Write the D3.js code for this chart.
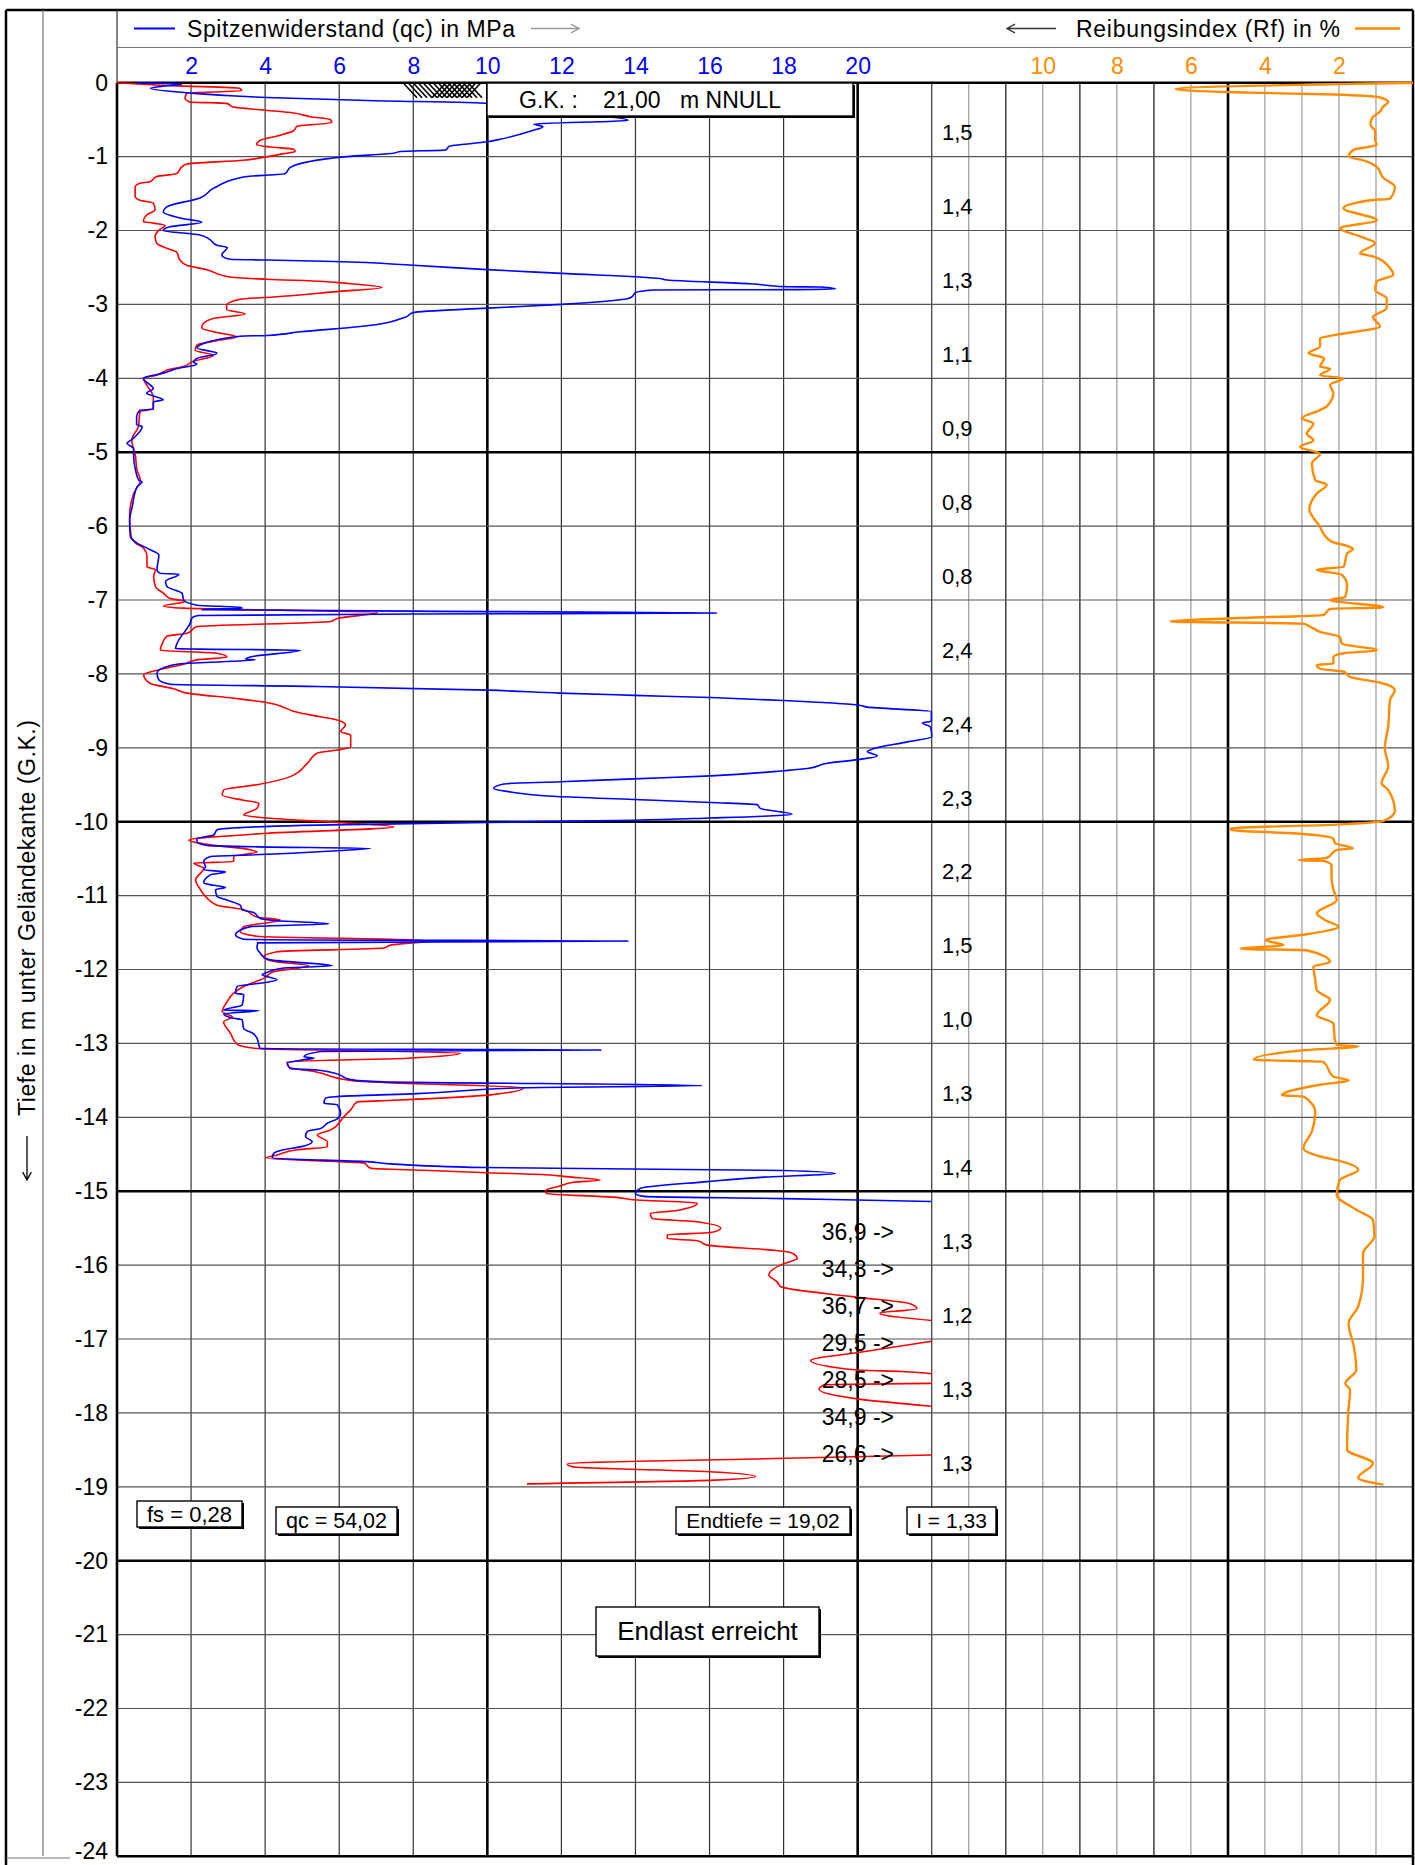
<!DOCTYPE html>
<html>
<head>
<meta charset="utf-8">
<script src="https://cdn.jsdelivr.net/npm/d3@7"></script>
<style>
  body { margin: 0; background: #fff; }
  text { font-family: "Liberation Sans", Arial, Helvetica, sans-serif; }
</style>
</head>
<body>
<div id="viz"></div>
<script>
// [depth m, qc MPa]
const qcData = [
  [0,0.53],[0.02,1.75],[0.05,1.2],[0.076,0.9],[0.14,1.97],[0.20,4.05],[0.24,6.75],[0.28,10.0],[0.31,10.3],[0.42,12.5],
  [0.51,13.8],[0.56,11.25],[0.595,11.5],[0.65,11.2],[0.77,10.3],[0.80,10.0],[0.86,8.97],[0.91,8.88],[0.93,7.65],[0.955,7.46],
  [1.0,6.2],[1.145,4.68],[1.23,4.54],[1.27,3.5],[1.43,2.6],[1.56,2.24],[1.68,1.34],[1.75,1.25],[1.83,1.7],[1.89,2.29],
  [1.95,1.43],[2.0,1.25],[2.06,2.24],[2.12,2.5],[2.2,2.7],[2.23,2.98],[2.33,2.83],[2.39,3.05],[2.40,4.05],[2.42,5.85],
  [2.47,8.0],[2.53,10.0],[2.58,12.0],[2.65,14.66],[2.67,14.86],[2.72,17.1],[2.76,18.08],[2.765,19.0],[2.79,19.4],[2.80,18.1],
  [2.805,14.5],[2.84,14.0],[2.90,13.9],[2.92,13.8],[3.0,12.0],[3.05,10.0],[3.11,8.0],[3.17,7.8],[3.30,6.57],[3.37,4.95],
  [3.42,4.05],[3.43,3.33],[3.55,2.24],[3.59,2.16],[3.66,2.7],[3.73,2.16],[3.78,2.07],[3.81,2.16],[3.87,1.6],[3.93,1.25],
  [3.98,0.8],[4.0,0.71],[4.14,0.98],[4.2,0.8],[4.29,1.25],[4.32,0.98],[4.42,0.98],[4.43,0.62],[4.52,0.53],[4.63,0.53],
  [4.65,0.68],[4.83,0.4],[4.88,0.27],[4.95,0.45],[5.06,0.45],[5.24,0.5],[5.38,0.59],[5.40,0.68],[5.47,0.54],[5.74,0.41],
  [5.92,0.34],[6.14,0.36],[6.23,0.54],[6.32,0.9],[6.39,1.13],[6.59,1.08],[6.64,1.17],[6.65,1.67],[6.75,1.31],[6.82,1.35],
  [6.91,1.76],[7.0,1.8],[7.07,2.16],[7.10,3.33],[7.11,3.38],[7.13,2.3],[7.15,8],[7.175,16.19],[7.19,8],[7.21,2.2],
  [7.24,2.03],[7.31,1.98],[7.59,1.62],[7.66,1.58],[7.665,2.25],[7.68,4.95],[7.77,3.6],[7.80,3.47],[7.81,3.74],[7.86,1.8],
  [7.90,1.35],[7.99,1.08],[8.08,1.13],[8.14,1.44],[8.17,5.4],[8.22,10],[8.26,11.97],[8.29,13.95],[8.32,16.03],[8.36,18.0],
  [8.39,19.18],[8.42,20],[8.45,20.26],[8.51,21.99],[8.64,21.99],[8.66,21.75],[8.72,21.97],[8.85,22],[8.92,21.34],[9.01,20.44],
  [9.05,20.26],[9.11,20.53],[9.16,20.0],[9.21,19.18],[9.28,18.64],[9.31,18.0],[9.38,16.03],[9.42,13.95],[9.46,11.97],[9.49,10.44],
  [9.55,10.17],[9.59,10.53],[9.66,11.88],[9.70,13.95],[9.74,16.03],[9.77,17.29],[9.82,17.37],[9.90,18.23],[9.92,17.73],[9.95,16.03],
  [9.98,13.95],[10.01,10],[10.05,5],[10.11,2.7],[10.18,2.61],[10.23,2.16],[10.27,2.16],[10.32,2.43],[10.34,3.78],[10.36,6.85],
  [10.40,5.68],[10.45,3.6],[10.47,2.52],[10.54,2.34],[10.61,2.39],[10.65,2.34],[10.68,2.93],[10.72,2.52],[10.83,2.34],[10.86,2.61],
  [10.89,2.93],[10.92,2.66],[11.01,2.7],[11.06,2.97],[11.13,3.33],[11.19,3.38],[11.23,3.69],[11.31,3.87],[11.34,4.32],[11.38,5.72],
  [11.42,3.6],[11.47,3.33],[11.53,3.2],[11.59,3.42],[11.60,5.4],[11.615,13.8],[11.64,3.8],[11.71,3.78],[11.78,3.87],[11.83,3.96],
  [11.87,4.14],[11.95,5.81],[11.98,4.5],[12.04,4.05],[12.07,3.92],[12.14,4.32],[12.18,3.96],[12.23,3.24],[12.32,3.2],[12.34,3.42],
  [12.48,3.38],[12.55,2.88],[12.555,3.83],[12.60,2.88],[12.66,3.15],[12.68,3.38],[12.80,3.42],[12.87,3.69],[12.93,3.78],[13.02,3.83],
  [13.07,3.87],[13.09,13.07],[13.11,5.5],[13.18,5.05],[13.2,5.32],[13.22,5.05],[13.27,4.6],[13.34,4.68],[13.36,5.4],[13.40,5.86],
  [13.49,6.31],[13.52,7.2],[13.57,15.8],[13.60,11],[13.68,8.1],[13.71,6.3],[13.74,5.63],[13.81,5.59],[13.83,5.95],[13.95,6.04],
  [14.02,5.95],[14.08,5.68],[14.15,5.5],[14.19,5.14],[14.26,5.09],[14.33,5.27],[14.40,4.95],[14.44,4.5],[14.49,4.23],[14.55,4.19],
  [14.60,6.76],[14.63,7.39],[14.68,9.9],[14.72,18.0],[14.76,19.4],[14.81,17.47],[14.87,15.94],[14.96,14.14],[15.03,14.0],[15.07,14.23],
  [15.10,18.0],[15.12,19.98],[15.14,21.98]
];

// [depth m, red curve on the qc scale]; null = off scale
const fsData = [
  [0,0],[0.04,1.5],[0.076,3.32],[0.11,3.37],[0.14,1.88],[0.21,1.84],[0.26,1.97],[0.28,2.96],[0.33,3.14],[0.37,3.95],
  [0.41,4.77],[0.46,5.22],[0.50,5.76],[0.54,5.8],[0.59,4.86],[0.65,4.77],[0.71,4.41],[0.78,3.86],[0.84,3.77],[0.87,4.14],
  [0.90,4.77],[0.93,4.81],[0.96,4.5],[1.01,3.95],[1.05,3.41],[1.10,1.88],[1.14,1.75],[1.23,1.61],[1.27,1.07],[1.34,0.89],
  [1.36,0.62],[1.41,0.49],[1.54,0.49],[1.59,0.62],[1.63,0.98],[1.72,1.03],[1.79,0.8],[1.88,0.71],[1.90,0.98],[1.93,1.3],
  [2.0,1.12],[2.08,1.03],[2.17,1.07],[2.24,1.34],[2.29,1.61],[2.40,1.7],[2.47,1.88],[2.53,2.42],[2.63,3.05],[2.66,4.05],
  [2.69,5.58],[2.72,6.3],[2.77,7.15],[2.83,5.85],[2.90,4.23],[2.93,3.32],[3.01,2.96],[3.07,2.96],[3.13,3.46],[3.19,2.6],
  [3.26,2.33],[3.32,2.29],[3.37,2.6],[3.44,3.23],[3.49,2.69],[3.55,2.16],[3.62,2.11],[3.69,2.6],[3.77,2.06],[3.84,1.79],
  [3.89,1.34],[3.96,1.07],[4.0,0.71],[4.09,0.8],[4.25,0.98],[4.41,0.98],[4.45,0.62],[4.65,0.58],[4.83,0.4],[5.06,0.5],
  [5.24,0.54],[5.38,0.63],[5.56,0.45],[5.87,0.34],[6.14,0.38],[6.23,0.5],[6.30,0.72],[6.41,0.81],[6.55,0.81],[6.59,1.04],
  [6.68,0.99],[6.82,1.04],[6.91,1.26],[6.98,1.44],[7.02,1.85],[7.08,1.26],[7.11,1.8],[7.17,7.03],[7.25,5.95],[7.29,5.77],
  [7.36,2.16],[7.45,1.89],[7.49,1.35],[7.59,1.22],[7.68,1.17],[7.72,2.7],[7.77,2.97],[7.81,2.16],[7.87,1.8],[7.95,1.08],
  [8.01,0.72],[8.13,0.9],[8.20,1.53],[8.26,1.89],[8.33,3.15],[8.38,3.96],[8.53,4.95],[8.58,5.5],[8.63,5.99],[8.69,6.17],
  [8.78,6.04],[8.83,6.31],[8.99,6.31],[9.03,5.95],[9.07,5.41],[9.21,5.14],[9.39,4.68],[9.50,3.78],[9.57,2.88],[9.64,2.84],
  [9.71,3.42],[9.75,3.83],[9.82,3.78],[9.91,3.42],[9.95,4.05],[10.01,5.95],[10.07,7.48],[10.16,3.96],[10.25,1.94],[10.30,2.34],
  [10.38,3.6],[10.41,3.78],[10.47,3.15],[10.54,3.15],[10.56,2.07],[10.63,2.34],[10.79,2.12],[10.88,2.2],[11.01,2.39],[11.13,2.7],
  [11.19,3.42],[11.29,3.78],[11.33,4.41],[11.42,3.42],[11.49,3.33],[11.55,3.78],[11.61,8.47],[11.67,7.39],[11.71,7.2],[11.76,4.32],
  [11.83,3.96],[11.89,4.23],[11.95,5.18],[12.03,4.23],[12.12,3.96],[12.23,3.42],[12.32,3.15],[12.44,2.97],[12.57,2.84],[12.64,3.11],
  [12.71,2.88],[12.86,3.06],[13.01,3.24],[13.07,3.78],[13.13,9.28],[13.20,7.84],[13.25,4.59],[13.32,4.64],[13.39,5.41],[13.50,6.31],
  [13.53,7.2],[13.60,10.98],[13.69,10.2],[13.77,7.48],[13.79,6.49],[13.90,6.31],[13.99,6.13],[14.17,5.77],[14.24,5.41],[14.33,5.68],
  [14.40,5.68],[14.44,4.86],[14.51,4.32],[14.55,4.01],[14.62,6.67],[14.69,6.85],[14.72,8.46],[14.75,10.0],[14.78,11.7],[14.80,12.06],
  [14.85,13.05],[14.88,12.33],[14.93,11.97],[14.99,11.57],[15.03,11.6],[15.08,13.4],[15.12,14.05],[15.16,15.67],[15.26,15.13],[15.30,14.4],
  [15.37,14.45],[15.41,15.58],[15.50,16.3],[15.56,16.03],[15.59,14.86],[15.64,14.86],[15.67,15.67],[15.73,15.94],[15.80,17.74],[15.83,18.19],
  [15.91,18.37],[15.98,18.0],[16.13,17.6],[16.23,17.83],[16.29,17.92],[16.43,19.9],[16.52,21.4],[16.59,21.6],[16.65,20.6],[16.75,22],
  null,
  [17.03,22],[17.17,20.2],[17.29,18.73],[17.42,19.99],[17.44,21.2],[17.47,22],
  null,
  [17.60,22],[17.62,19.1],[17.68,18.96],[17.81,19.99],[17.91,22],
  null,
  [18.57,22],[18.62,17.47],[18.69,12.16],[18.73,12.3],[18.80,16.12],[18.86,17.24],[18.91,16.12],[18.96,11.07]
];

// [depth m, Rf %]
const rfData = [
  [0,0],[0.085,6.41],[0.13,4.84],[0.16,2.15],[0.2,0.89],[0.26,0.67],[0.32,0.8],[0.39,0.89],[0.48,1.11],[0.57,1.15],
  [0.66,1.02],[0.78,1.02],[0.84,0.98],[0.91,1.61],[1.0,1.74],[1.05,1.34],[1.14,0.98],[1.29,0.8],[1.41,0.49],[1.57,0.62],
  [1.59,1.15],[1.70,1.88],[1.86,0.98],[1.97,1.97],[2.08,1.43],[2.17,1.02],[2.31,1.43],[2.35,1.08],[2.51,0.62],[2.60,0.53],
  [2.69,0.98],[2.81,1.02],[2.92,0.71],[3.05,0.71],[3.17,1.08],[3.30,0.89],[3.41,2.06],[3.46,2.51],[3.57,2.51],[3.66,2.82],
  [3.73,2.4],[3.84,2.51],[3.87,2.24],[3.96,2.51],[4.0,1.88],[4.09,2.24],[4.20,2.15],[4.38,2.33],[4.43,2.51],[4.54,3.0],
  [4.61,2.69],[4.75,2.87],[4.84,2.69],[4.93,3.05],[5.02,2.51],[5.15,2.73],[5.38,2.64],[5.44,2.33],[5.56,2.6],[5.78,2.8],
  [5.89,2.69],[6.01,2.51],[6.1,2.42],[6.21,2.2],[6.28,1.71],[6.31,1.62],[6.37,1.78],[6.55,1.87],[6.59,2.6],[6.66,1.92],
  [6.80,1.78],[6.96,1.83],[7.0,2.24],[7.10,0.8],[7.12,2.24],[7.2,2.42],[7.25,5.02],[7.29,6.55],[7.32,2.96],[7.36,2.78],
  [7.43,2.51],[7.50,1.98],[7.59,1.92],[7.68,0.98],[7.72,1.87],[7.77,2.15],[7.86,2.15],[7.88,2.6],[7.93,2.51],[7.97,1.87],
  [8.04,1.7],[8.13,0.8],[8.22,0.49],[8.35,0.62],[8.71,0.67],[9.0,0.76],[9.25,0.67],[9.48,0.85],[9.57,0.67],[9.86,0.49],
  [9.99,0.8],[10.04,2.06],[10.09,4.93],[10.11,4.93],[10.16,3.13],[10.23,2.15],[10.29,2.11],[10.36,1.62],[10.38,2.06],[10.49,2.33],
  [10.52,3.09],[10.53,2.42],[10.59,2.2],[10.75,2.2],[10.92,2.15],[11.06,2.06],[11.24,2.6],[11.33,2.38],[11.42,2.02],[11.53,2.96],
  [11.60,3.99],[11.67,3.5],[11.72,4.66],[11.74,2.87],[11.90,2.24],[11.96,2.69],[12.14,2.64],[12.28,2.6],[12.41,2.24],[12.62,2.6],
  [12.73,2.15],[12.95,2.11],[13.02,2.06],[13.04,1.48],[13.09,2.87],[13.22,4.3],[13.25,2.42],[13.45,2.15],[13.50,1.74],[13.56,2.51],
  [13.70,3.54],[13.72,2.96],[13.79,2.78],[13.92,2.64],[14.19,2.73],[14.42,2.96],[14.53,2.51],[14.58,2.06],[14.71,1.48],[14.85,1.98],
  [15.05,2.06],[15.25,1.53],[15.39,1.08],[15.61,1.04],[15.84,1.35],[16.16,1.35],[16.56,1.48],[16.79,1.74],[17.1,1.6],[17.42,1.53],
  [17.60,1.83],[17.69,1.7],[18.0,1.75],[18.50,1.78],[18.68,1.08],[18.88,1.48],[18.97,0.8]
];

const qcTicks = [2, 4, 6, 8, 10, 12, 14, 16, 18, 20];
const rfTicks = [10, 8, 6, 4, 2];
const depthTicks = d3.range(0, 25);
const meterLabels = ["1,5","1,4","1,3","1,1","0,9","0,8","0,8","2,4","2,4","2,3","2,2","1,5","1,0","1,3","1,4","1,3","1,2","1,3","1,3"];
const offDepths = [15.55, 16.05, 16.55, 17.05, 17.55, 18.05, 18.55];
const offValues = ["36,9","34,3","36,7","29,5","28,5","34,9","26,6"];

const width = 1415,
  height = 1865;

const svg = d3
  .select("#viz")
  .append("svg")
  .attr("width", width)
  .attr("height", height);

const y = d3.scaleLinear().domain([0, 24]).range([82.7, 1856.3]);
const xQ = d3.scaleLinear().domain([0, 30]).range([117, 1228]);
const xR = d3.scaleLinear().domain([0, 13]).range([1413, 931.7]);

const top0 = y(0), bot = y(24);

// Rf grid (grey, every 1 %)
svg.append("g")
  .selectAll("line")
  .data(d3.range(1, 13))
  .enter()
  .append("line")
  .attr("x1", d => xR(d)).attr("x2", d => xR(d))
  .attr("y1", top0).attr("y2", bot)
  .attr("stroke", "#9a9a9a")
  .attr("stroke-width", 1.2);

// qc grid (every 2 MPa)
svg.append("g")
  .selectAll("line")
  .data(d3.range(2, 31, 2))
  .enter()
  .append("line")
  .attr("x1", d => xQ(d)).attr("x2", d => xQ(d))
  .attr("y1", top0).attr("y2", bot)
  .attr("stroke", d => (d % 10 === 0 ? "#000" : "#333"))
  .attr("stroke-width", d => (d % 10 === 0 ? 2.6 : 1.2));

// depth grid
svg.append("g")
  .selectAll("line")
  .data(depthTicks)
  .enter()
  .append("line")
  .attr("x1", 117).attr("x2", 1413)
  .attr("y1", d => y(d)).attr("y2", d => y(d))
  .attr("stroke", d => (d % 5 === 0 || d === 24 ? "#000" : "#555"))
  .attr("stroke-width", d => (d % 5 === 0 || d === 24 ? 2.6 : 1.2));

// frame
const frame = svg.append("g").attr("fill", "none");
frame.append("line").attr("x1", 6).attr("x2", 1413).attr("y1", 10).attr("y2", 10).attr("stroke", "#000").attr("stroke-width", 2.5);
frame.append("line").attr("x1", 6).attr("x2", 6).attr("y1", 10).attr("y2", height).attr("stroke", "#000").attr("stroke-width", 2.5);
frame.append("line").attr("x1", 1413).attr("x2", 1413).attr("y1", 10).attr("y2", height).attr("stroke", "#000").attr("stroke-width", 2.5);
frame.append("line").attr("x1", 43).attr("x2", 43).attr("y1", 10).attr("y2", bot).attr("stroke", "#777").attr("stroke-width", 1.2);
frame.append("line").attr("x1", 117).attr("x2", 117).attr("y1", 10).attr("y2", top0).attr("stroke", "#333").attr("stroke-width", 1.2);
frame.append("line").attr("x1", 117).attr("x2", 117).attr("y1", top0).attr("y2", bot).attr("stroke", "#000").attr("stroke-width", 2.6);
frame.append("line").attr("x1", 117).attr("x2", 1413).attr("y1", 47.5).attr("y2", 47.5).attr("stroke", "#777").attr("stroke-width", 1.2);
frame.append("line").attr("x1", 6).attr("x2", 70).attr("y1", 1858).attr("y2", 1858).attr("stroke", "#777").attr("stroke-width", 1.2);

// hatch symbol below surface
const hatch = svg.append("g").attr("stroke", "#000").attr("stroke-width", 1.6);
d3.range(404, 470, 5).forEach(x => {
  hatch.append("line").attr("x1", x).attr("y1", top0 + 1).attr("x2", x + 13).attr("y2", top0 + 15);
});
d3.range(432, 470, 5).forEach(x => {
  hatch.append("line").attr("x1", x + 13).attr("y1", top0 + 1).attr("x2", x).attr("y2", top0 + 15);
});

// curves
const lineQ = d3.line()
  .defined(d => d !== null)
  .curve(d3.curveMonotoneY)
  .x(d => xQ(d[1]))
  .y(d => y(d[0]));
const lineR = d3.line()
  .curve(d3.curveMonotoneY)
  .x(d => xR(d[1]))
  .y(d => y(d[0]));

svg.append("path").datum(fsData).attr("d", lineQ)
  .attr("fill", "none").attr("stroke", "#ff0000").attr("stroke-width", 1.6);
svg.append("path").datum(qcData).attr("d", lineQ)
  .attr("fill", "none").attr("stroke", "#0000ff").attr("stroke-width", 1.6);
svg.append("path").datum(rfData).attr("d", lineR)
  .attr("fill", "none").attr("stroke", "#ff8c00").attr("stroke-width", 2.4);

// axes labels
const axQ = svg.append("g")
  .attr("transform", "translate(0,66)")
  .call(d3.axisBottom(xQ).tickValues(qcTicks).tickSize(0).tickFormat(d3.format("d")));
axQ.select(".domain").remove();
axQ.selectAll("text").attr("y", 0).attr("dy", "0.36em")
  .attr("fill", "#0000ff").style("font-size", "23px");

const axR = svg.append("g")
  .attr("transform", "translate(0,66)")
  .call(d3.axisBottom(xR).tickValues(rfTicks).tickSize(0).tickFormat(d3.format("d")));
axR.select(".domain").remove();
axR.selectAll("text").attr("y", 0).attr("dy", "0.36em")
  .attr("fill", "#ff8c00").style("font-size", "23px");

const axY = svg.append("g")
  .attr("transform", "translate(117,0)")
  .call(d3.axisLeft(y).tickValues(depthTicks).tickSize(0).tickPadding(9)
    .tickFormat(d => (d === 0 ? "0" : "-" + d)));
axY.select(".domain").remove();
axY.selectAll("text").attr("fill", "#000").style("font-size", "23px");
axY.selectAll(".tick").filter(d => d === 24).select("text").attr("dy", "0.1em");

// depth axis title
svg.append("text")
  .attr("transform", "translate(27,918) rotate(-90)")
  .attr("text-anchor", "middle")
  .attr("dominant-baseline", "central")
  .attr("textLength", 396)
  .attr("lengthAdjust", "spacing")
  .style("font-size", "23px")
  .text("Tiefe in m unter Geländekante (G.K.)");

function arrow(g, x1, y1, x2, y2, color) {
  const a = Math.atan2(y2 - y1, x2 - x1), h = 9;
  g.append("path")
    .attr("d", `M${x1},${y1}L${x2},${y2}M${x2 - h * Math.cos(a - 0.5)},${y2 - h * Math.sin(a - 0.5)}L${x2},${y2}L${x2 - h * Math.cos(a + 0.5)},${y2 - h * Math.sin(a + 0.5)}`)
    .attr("fill", "none").attr("stroke", color).attr("stroke-width", 1.3);
}
arrow(svg, 27, 1136, 27, 1180, "#000");

// header legend
svg.append("line").attr("x1", 134).attr("x2", 175).attr("y1", 28.5).attr("y2", 28.5)
  .attr("stroke", "#0000ff").attr("stroke-width", 2);
svg.append("text").attr("x", 187).attr("y", 37).style("font-size", "23px")
  .attr("textLength", 328).attr("lengthAdjust", "spacing")
  .text("Spitzenwiderstand (qc) in MPa");
arrow(svg, 531, 28.5, 579, 28.5, "#999");

arrow(svg, 1056, 28.5, 1007, 28.5, "#333");
svg.append("text").attr("x", 1076).attr("y", 37).style("font-size", "23px")
  .attr("textLength", 264).attr("lengthAdjust", "spacing")
  .text("Reibungsindex (Rf) in %");
svg.append("line").attr("x1", 1355).attr("x2", 1400).attr("y1", 28.5).attr("y2", 28.5)
  .attr("stroke", "#ff8c00").attr("stroke-width", 2.4);

// per-metre values
svg.append("g")
  .selectAll("text")
  .data(meterLabels)
  .enter()
  .append("text")
  .attr("x", 942)
  .attr("y", (d, i) => y(i + 0.68))
  .attr("dominant-baseline", "central")
  .style("font-size", "22px")
  .text(d => d);

// off-scale qc values
svg.append("g")
  .selectAll("text")
  .data(offValues)
  .enter()
  .append("text")
  .attr("x", 894)
  .attr("y", (d, i) => y(offDepths[i]))
  .attr("text-anchor", "end")
  .attr("dominant-baseline", "central")
  .style("font-size", "23px")
  .text(d => d + " ->");

// boxes
function box(x0, y0, x1, y1) {
  svg.append("rect").attr("x", x0 + 2).attr("y", y0 + 2).attr("width", x1 - x0).attr("height", y1 - y0)
    .attr("fill", "#000");
  svg.append("rect").attr("x", x0).attr("y", y0).attr("width", x1 - x0).attr("height", y1 - y0)
    .attr("fill", "#fff").attr("stroke", "#000").attr("stroke-width", 1.4);
}

box(487, 83, 853, 116);
svg.append("text").attr("x", 519).attr("y", 108).style("font-size", "23px").text("G.K. :");
svg.append("text").attr("x", 603).attr("y", 108).style("font-size", "23px").text("21,00");
svg.append("text").attr("x", 680).attr("y", 108).style("font-size", "23px").text("m NNULL");

box(137, 1501, 242, 1527);
svg.append("text").attr("x", 189.5).attr("y", 1521.5).attr("text-anchor", "middle").style("font-size", "22px").text("fs = 0,28");
box(276, 1507, 397, 1534);
svg.append("text").attr("x", 336.5).attr("y", 1528).attr("text-anchor", "middle").style("font-size", "21.5px").text("qc = 54,02");
box(676, 1507, 850, 1534);
svg.append("text").attr("x", 763).attr("y", 1528).attr("text-anchor", "middle").style("font-size", "21px").text("Endtiefe = 19,02");
box(907, 1507, 996, 1534);
svg.append("text").attr("x", 951.5).attr("y", 1528).attr("text-anchor", "middle").style("font-size", "21px").text("I = 1,33");
box(596, 1607, 819, 1656);
svg.append("text").attr("x", 707.5).attr("y", 1640).attr("text-anchor", "middle").style("font-size", "26px").text("Endlast erreicht");
</script>
</body>
</html>
